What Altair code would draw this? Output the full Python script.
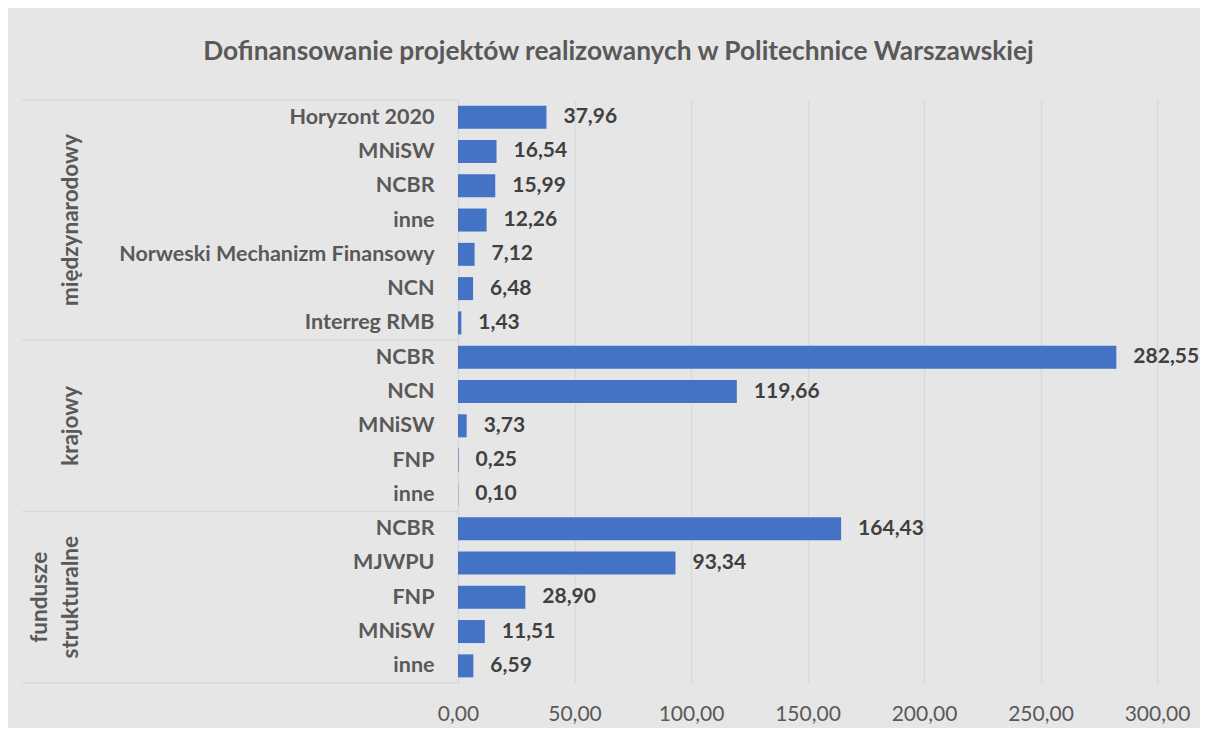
import json
import altair as alt
import pandas as pd

title_text = "Dofinansowanie projektów realizowanych w Politechnice Warszawskiej"

group_names = ["międzynarodowy", "krajowy", "fundusze strukturalne"]

miedzynarodowy_names = ["Horyzont 2020", "MNiSW", "NCBR", "inne",
                        "Norweski Mechanizm Finansowy", "NCN", "Interreg RMB"]
miedzynarodowy_values = [37.96, 16.54, 15.99, 12.26, 7.12, 6.48, 1.43]

krajowy_names = ["NCBR", "NCN", "MNiSW", "FNP", "inne"]
krajowy_values = [282.55, 119.66, 3.73, 0.25, 0.10]

fundusze_names = ["NCBR", "MJWPU", "FNP", "MNiSW", "inne"]
fundusze_values = [164.43, 93.34, 28.90, 11.51, 6.59]

x_ticks = [0, 50, 100, 150, 200, 250, 300]

# ---- build table ----
rows = []
for g, names, vals in [
    (group_names[0], miedzynarodowy_names, miedzynarodowy_values),
    (group_names[1], krajowy_names, krajowy_values),
    (group_names[2], fundusze_names, fundusze_values),
]:
    for n, v in zip(names, vals):
        rows.append({"group": g, "name": n, "value": v})
df = pd.DataFrame(rows)
df["row"] = range(len(df))
df["label"] = df["value"].map(lambda v: f"{v:.2f}".replace(".", ","))

all_names = df["name"].tolist()
n_rows = len(df)

grp = df.groupby("group", sort=False)["row"].agg(["min", "max", "mean"]).reset_index()
single_df = grp[grp["group"] != "fundusze strukturalne"][["group", "mean"]]
multi_df = grp[grp["group"] == "fundusze strukturalne"][["group", "mean"]].copy()
multi_df["lines"] = [["fundusze", "strukturalne"]]
bounds = [-0.5] + [m + 0.5 for m in grp["max"].tolist()]
bounds_df = pd.DataFrame({"b": bounds})

FONT = "Lato"
GRID = "#D9D9D9"

y_scale = alt.Scale(domain=[-0.5, n_rows - 0.5], reverse=True, nice=False,
                    zero=False, padding=0)
x_scale = alt.Scale(domain=[0, 300], nice=False, padding=0)

label_expr = json.dumps(all_names, ensure_ascii=False) + "[datum.value]"

bars = alt.Chart(df).mark_bar(color="#4472C4", size=23, orient="horizontal").encode(
    x=alt.X("value:Q", scale=x_scale,
            axis=alt.Axis(values=x_ticks, tickCount=len(x_ticks), title=None,
                          grid=True, gridColor=GRID,
                          gridWidth=1.5, domain=False, ticks=False,
                          labelFlush=False, labelOverlap=False,
                          labelExpr="replace(format(datum.value, '.2f'), '.', ',')",
                          labelFont=FONT, labelFontSize=21, labelColor="#595959",
                          labelPadding=20)),
    y=alt.Y("row:Q", scale=y_scale,
            axis=alt.Axis(values=list(range(n_rows)), tickCount=n_rows, title=None,
                          grid=False,
                          ticks=False, domain=True, domainColor=GRID, domainWidth=1.5,
                          labelOverlap=False, labelLimit=0, labelFlush=False,
                          labelExpr=label_expr, labelFont=FONT, labelFontSize=21.5,
                          labelFontWeight="bold", labelColor="#595959",
                          labelPadding=24)),
)

values_txt = alt.Chart(df).mark_text(
    align="left", baseline="middle", dx=17, font=FONT, fontSize=21,
    fontWeight="bold", color="#404040"
).encode(
    x=alt.X("value:Q", scale=x_scale),
    y=alt.Y("row:Q", scale=y_scale),
    text="label:N",
)

seps = alt.Chart(bounds_df).mark_rule(color=GRID, strokeWidth=1.5).encode(
    y=alt.Y("b:Q", scale=y_scale),
    x=alt.value(-436),
    x2=alt.value(0),
)

group_single = alt.Chart(single_df).mark_text(
    angle=270, align="center", baseline="middle", font=FONT, fontSize=22.5,
    fontWeight="bold", color="#595959"
).encode(
    y=alt.Y("mean:Q", scale=y_scale),
    x=alt.value(-387),
    text="group:N",
)

group_multi = alt.Chart(multi_df).mark_text(
    angle=270, align="center", baseline="middle", font=FONT, fontSize=22.5,
    fontWeight="bold", color="#595959", lineHeight=31
).encode(
    y=alt.Y("mean:Q", scale=y_scale),
    x=alt.value(-418),
    text="lines:N",
)

chart = alt.layer(bars, values_txt, seps, group_single, group_multi).properties(
    width=699,
    height=583,
    title=alt.TitleParams(text=title_text, font=FONT, fontSize=26.3, fontWeight="bold",
                          color="#595959", anchor="middle", dx=-189, offset=34),
    autosize=alt.AutoSizeParams(type="none"),
    padding={"left": 450, "top": 92, "right": 43, "bottom": 45},
).configure(
    background="#E7E6E6"
).configure_view(
    strokeWidth=0
).configure_axis(
    labelOverlap=False, labelFlush=False
).configure_axisY(
    labelOverlap=False, labelLimit=0
)

chart.save("out.html", embed_options={"renderer": "svg", "actions": False})
